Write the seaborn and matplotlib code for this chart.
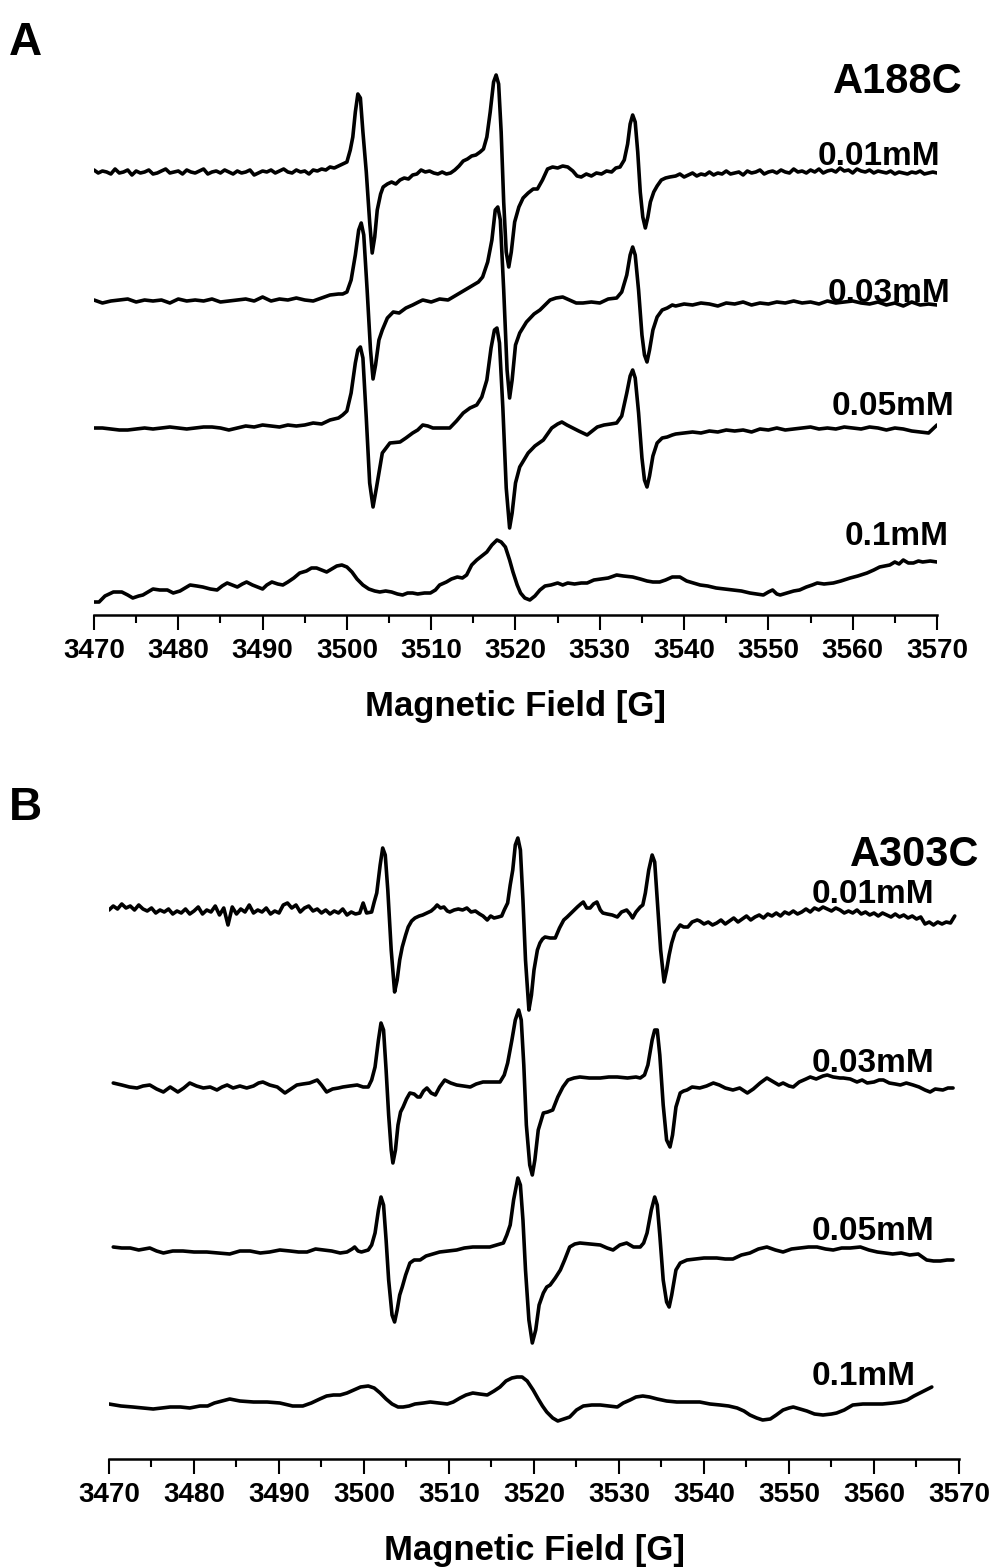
import numpy as np
import pandas as pd
import matplotlib
matplotlib.use("Agg")
import matplotlib.pyplot as plt
import seaborn as sns

# ---------------- data (signal amplitude, arbitrary units) ----------------
concs = ["0.01mM", "0.03mM", "0.05mM", "0.1mM"]
major_ticks = list(range(3470, 3571, 10))

# ---- Panel A : A188C ----
a01_noise_left = [2, -1, 1, 0, -2, 3, -1, 0, 2, -3, 1, -1, 0, 2, -2, -1, 1, 3, -1, 0, 1, -2, 2, 0, -1, 1, 3, -2, 0, 1,
                  -1, 2, 0, -2, 1, -1, 0, 2, -3, -1, 1, 0, 2, -1, 1, 3, 0, -1, 2, 0, 1, -2, 2, 1, 3, 2, 5, 4, 6, 8]
a01_feat = [(3500.0, 10), (3500.4, 22), (3500.7, 35), (3501.0, 60), (3501.3, 78), (3501.6, 74), (3501.9, 40),
            (3502.3, 0), (3502.7, -50), (3503.0, -81), (3503.3, -65), (3503.6, -38), (3504.0, -22), (3504.3, -15),
            (3504.8, -12), (3505.3, -10), (3505.8, -12), (3506.3, -8), (3506.8, -6), (3507.3, -7), (3507.8, -3),
            (3508.3, -2), (3508.8, 2), (3509.3, 0), (3509.8, 1), (3510.3, -1), (3510.8, -2), (3511.3, 0),
            (3511.8, -2), (3512.3, -1), (3512.8, 2), (3513.3, 6), (3513.8, 11), (3514.3, 13), (3514.8, 16),
            (3515.3, 17), (3515.8, 20), (3516.2, 23), (3516.6, 35), (3517.0, 60), (3517.4, 90), (3517.7, 97),
            (3518.0, 88), (3518.3, 40), (3518.6, -30), (3518.9, -80), (3519.2, -95), (3519.5, -80), (3519.9, -50),
            (3520.4, -35), (3520.9, -26), (3521.5, -21), (3522.1, -17), (3522.6, -17), (3523.2, -8), (3523.8, 3),
            (3524.4, 5), (3525.0, 4), (3525.6, 6), (3526.2, 5), (3526.8, 1), (3527.3, -4), (3527.8, -5),
            (3528.4, -2), (3529.0, -4), (3529.6, -1), (3530.2, -2), (3530.8, 1), (3531.4, 0), (3531.9, 4),
            (3532.4, 5), (3532.9, 12), (3533.3, 28), (3533.6, 48), (3533.9, 57), (3534.2, 50), (3534.5, 20),
            (3534.8, -20), (3535.1, -45), (3535.4, -56), (3535.7, -45), (3536.0, -30), (3536.4, -20),
            (3536.8, -14), (3537.3, -8), (3537.8, -6), (3538.3, -5)]
a01_noise_right = [-4, -2, -5, -3, -1, -4, -2, -3, 0, -3, -1, -2, 1, -2, -1, 0, -3, 1, -1, 0, 2, -2, 0, 1, -1, 2, 0, -1, 3, 0,
                   1, -1, 2, 0, 3, -1, 1, 2, 0, 4, 1, 2, -1, 3, 1, 0, 2, -1, 1, 0, -1, 1, -2, 0, -1, -2, 0, -1, 1, -2,
                   -1, 0, -1]

a03_left = [0, -3, -1, 0, 1, -2, 0, -1, 0, -3, 1, -1, 0, -1, 1, -2, -1, 0, 1, -1, 3, -1, 1, 0, 2, 0, -1, 2, 5, 6]
a03_feat = [(3499.5, 6), (3500.0, 8), (3500.5, 20), (3501.0, 45), (3501.4, 70), (3501.7, 77), (3502.0, 65),
            (3502.4, 10), (3502.8, -50), (3503.1, -79), (3503.4, -65), (3503.8, -40), (3504.2, -30), (3504.8, -18),
            (3505.5, -12), (3506.2, -13), (3507.0, -8), (3507.8, -5), (3508.5, -2), (3509.0, 0), (3510.0, -2),
            (3511.0, 1), (3512.0, 0), (3512.6, 3), (3513.4, 7), (3514.2, 11), (3515.0, 15), (3515.6, 18),
            (3516.1, 23), (3516.7, 38), (3517.2, 60), (3517.6, 90), (3517.9, 93), (3518.2, 80), (3518.6, 10),
            (3519.0, -70), (3519.3, -98), (3519.6, -80), (3520.0, -45), (3520.5, -33), (3521.3, -22),
            (3522.2, -14), (3522.9, -10), (3523.5, -5), (3524.1, 0), (3524.8, 2), (3525.6, 3), (3526.4, 0),
            (3527.2, -3), (3528.0, -3), (3529.0, -2), (3530.0, -3), (3531.0, 1), (3532.0, 2), (3532.6, 8),
            (3533.2, 25), (3533.6, 45), (3533.9, 53), (3534.2, 45), (3534.6, 10), (3535.0, -35), (3535.3, -55),
            (3535.6, -62), (3535.9, -50), (3536.3, -30), (3536.8, -17), (3537.4, -10), (3538.0, -8), (3538.6, -5)]
a03_right = [-6, -4, -5, -3, -4, -6, -3, -4, -2, -5, -3, -4, -2, -3, -1, -3, -2, -4, -1, -3, -2, -1, -3, -4, -2, -5,
             -3, -6, -2, -5, -4, -5]

a05_left = [0, 0, -1, -2, -2, -1, 0, -1, 0, 1, 0, -1, 0, 1, 1, 0, -2, 0, 2, 1, 3, 2, 1, 3, 2, 3, 5, 4, 8, 10]
a05_feat = [(3499.5, 13), (3500.0, 17), (3500.5, 35), (3501.0, 65), (3501.3, 78), (3501.6, 81), (3501.9, 70),
            (3502.3, 10), (3502.7, -55), (3503.1, -79), (3503.5, -60), (3504.2, -25), (3505.1, -15), (3506.3, -14),
            (3507.0, -10), (3507.8, -5), (3508.4, -2), (3509.0, 3), (3509.6, 2), (3510.2, 0), (3511.2, 0),
            (3512.2, 0), (3513.0, 7), (3513.8, 15), (3514.6, 20), (3515.4, 23), (3516.0, 31), (3516.6, 48),
            (3517.1, 80), (3517.5, 98), (3517.8, 100), (3518.1, 85), (3518.5, 20), (3518.9, -60), (3519.3, -100),
            (3519.6, -85), (3520.0, -55), (3520.5, -39), (3521.5, -25), (3522.3, -18), (3523.3, -12), (3524.3, 0),
            (3525.0, 4), (3525.5, 6), (3526.1, 3), (3526.8, 0), (3527.5, -3), (3528.5, -7), (3529.1, -3),
            (3529.7, 1), (3530.5, 3), (3531.3, 4), (3532.0, 5), (3532.6, 12), (3533.2, 35), (3533.6, 52),
            (3533.9, 58), (3534.2, 50), (3534.6, 15), (3535.0, -30), (3535.3, -52), (3535.6, -59), (3535.9, -48),
            (3536.3, -28), (3536.8, -15), (3537.4, -10), (3538.0, -9), (3538.6, -7)]
a05_right = [-6, -5, -4, -5, -3, -4, -2, -3, -2, -4, -1, -2, 0, -2, -1, 0, 1, -1, 0, -1, 1, 0, -1, 1, 0, -2, 0, -1,
             -3, -4, -5, 3]

a10_feat = [(3470.0, -12), (3470.6, -12), (3471.3, -6), (3472.3, -2), (3473.3, -2), (3474.0, -5), (3474.6, -8),
            (3475.3, -6), (3475.8, -5), (3476.4, -2), (3477.0, 1), (3477.8, 0), (3478.7, 0), (3479.4, -3),
            (3480.2, -1), (3481.4, 5), (3482.2, 4), (3482.9, 3), (3483.8, 1), (3484.6, 0), (3485.2, 4), (3485.8, 7),
            (3486.4, 5), (3487.0, 3), (3487.6, 6), (3488.1, 8), (3488.8, 5), (3489.4, 3), (3490.0, 1), (3490.5, 5),
            (3491.1, 8), (3491.8, 6), (3492.4, 5), (3493.0, 8), (3493.7, 12), (3494.4, 17), (3495.2, 19),
            (3495.8, 22), (3496.4, 22), (3497.0, 20), (3497.6, 18), (3498.2, 21), (3498.8, 24), (3499.4, 25),
            (3500.0, 23), (3500.6, 18), (3501.2, 11), (3501.9, 5), (3502.6, 1), (3503.3, -1), (3503.9, -2),
            (3504.6, -1), (3505.3, -2), (3506.0, -4), (3506.6, -5), (3507.2, -3), (3507.8, -3), (3508.4, -4),
            (3509.2, -3), (3509.9, -3), (3510.5, 0), (3511.0, 5), (3511.8, 8), (3512.4, 11), (3513.1, 13),
            (3513.7, 12), (3514.2, 15), (3514.8, 25), (3515.4, 30), (3516.0, 34), (3516.6, 38), (3517.2, 45),
            (3517.8, 50), (3518.3, 48), (3518.8, 43), (3519.3, 30), (3519.7, 18), (3520.2, 5), (3520.6, -3),
            (3521.1, -8), (3521.7, -10), (3522.3, -6), (3522.9, 0), (3523.5, 4), (3524.2, 5), (3525.0, 7),
            (3525.6, 5), (3526.2, 7), (3527.0, 6), (3527.8, 7), (3528.5, 7), (3529.3, 10), (3530.2, 11),
            (3531.0, 12), (3532.0, 15), (3532.8, 14), (3533.9, 13), (3534.8, 11), (3535.6, 9), (3536.3, 8),
            (3537.1, 8), (3537.8, 10), (3538.6, 13), (3539.5, 13), (3540.3, 9), (3541.1, 7), (3541.9, 5),
            (3542.8, 4), (3543.8, 2), (3544.8, 1), (3545.8, 0), (3546.8, -1), (3547.8, -3), (3548.6, -4),
            (3549.4, -5), (3550.0, -2), (3550.5, 0), (3551.0, -4), (3551.4, -5), (3552.2, -3), (3553.0, -1),
            (3553.7, 0), (3554.5, 3), (3555.2, 5), (3555.8, 7), (3556.6, 6), (3557.7, 7), (3558.6, 9),
            (3559.7, 12), (3560.6, 14), (3561.7, 17), (3562.5, 20), (3563.2, 23), (3564.4, 25), (3565.0, 28),
            (3565.5, 26), (3566.0, 30), (3566.6, 27), (3567.2, 27), (3567.8, 29), (3568.3, 28), (3569.2, 29),
            (3570.0, 28)]

# ---- Panel B : A303C ----
b01_noise_left = [0, 4, 1, 6, 2, 4, 0, 5, 1, -1, 2, -3, 0, -2, 1, -4, -1, -3, 1, -4, -1, 3, -4, 0, -2, 4, -5, 2,
                  -15, 3, -4, 1, -2, 5, -3, 0, -2, 2, -4, -1, -3, 5, 7, 2, 5, -2, 2, 4, -1, 1, -3, 0, -4, -1, -3, 1,
                  -5, -2, -4, -3]
b01_feat = [(3499.9, 7), (3500.3, -3), (3500.9, -2), (3501.2, 8), (3501.5, 17), (3501.9, 45), (3502.2, 62),
            (3502.5, 55), (3502.8, 20), (3503.2, -40), (3503.6, -82), (3503.9, -70), (3504.2, -50), (3504.5, -37),
            (3504.9, -25), (3505.2, -17), (3505.6, -11), (3506.0, -8), (3506.5, -6), (3506.9, -5), (3507.4, -3),
            (3507.9, -1), (3508.3, 2), (3508.6, 5), (3509.0, 2), (3509.4, 3), (3509.8, -1), (3510.1, -2),
            (3510.6, 0), (3511.1, 1), (3511.6, 0), (3512.1, 2), (3512.6, -2), (3513.1, -1), (3513.6, -4),
            (3514.0, -6), (3514.5, -10), (3514.9, -6), (3515.3, -8), (3515.8, -7), (3516.2, -6), (3516.5, 0),
            (3516.9, 7), (3517.2, 25), (3517.5, 40), (3517.8, 65), (3518.1, 72), (3518.4, 60), (3518.7, 10),
            (3519.0, -50), (3519.4, -100), (3519.7, -85), (3520.0, -60), (3520.4, -40), (3520.7, -33),
            (3521.0, -29), (3521.3, -27), (3521.9, -28), (3522.5, -28), (3523.0, -18), (3523.5, -10),
            (3523.9, -7), (3524.5, -2), (3525.1, 3), (3525.5, 6), (3525.8, 8), (3526.2, 2), (3526.6, 2),
            (3527.0, 6), (3527.4, 8), (3527.8, 0), (3528.1, -3), (3528.6, -4), (3529.2, -5), (3529.8, -7),
            (3530.3, -2), (3530.9, 0), (3531.3, -4), (3531.6, -8), (3532.0, -2), (3532.5, 3), (3532.8, 5),
            (3533.1, 17), (3533.5, 40), (3533.9, 55), (3534.2, 48), (3534.5, 10), (3534.9, -40), (3535.3, -72),
            (3535.6, -60), (3535.9, -45), (3536.2, -33), (3536.6, -22), (3537.2, -15), (3537.6, -17),
            (3538.1, -17), (3538.6, -12), (3539.2, -10)]
b01_noise_right = [-11, -14, -12, -15, -13, -10, -14, -11, -8, -12, -9, -6, -10, -7, -5, -8, -4, -6, -3, -6, -2, -4,
                   -1, -4, -2, 1, -2, 2, 0, 3, 1, -1, 2, 0, -3, -1, -3, 0, -4, -2, -5, -3, -6, -3, -5, -7, -4, -7,
                   -5, -8, -6, -9, -7, -14, -12, -15, -12, -14, -12, -13, -6]

b03_feat = [(3470.5, 2), (3471.5, 0), (3472.4, -2), (3473.3, -3), (3474.0, -1), (3474.8, 0), (3475.6, -4),
            (3476.4, -7), (3477.2, -2), (3478.1, -7), (3478.8, -3), (3479.5, 2), (3480.3, -1), (3481.1, -3),
            (3481.9, -2), (3482.7, -5), (3483.3, -2), (3483.9, 0), (3484.6, -3), (3485.4, -1), (3486.2, -3),
            (3487.0, -1), (3487.6, 2), (3488.1, 3), (3488.9, 0), (3489.8, -2), (3490.7, -8), (3491.4, -4),
            (3492.1, 0), (3492.8, 1), (3493.6, 2), (3494.5, 5), (3495.0, 0), (3495.6, -7), (3496.3, -4),
            (3497.0, -3), (3497.5, -2), (3498.3, -1), (3499.2, 0), (3499.9, -2), (3500.5, -2), (3500.9, 5),
            (3501.3, 18), (3501.7, 45), (3502.0, 62), (3502.3, 55), (3502.6, 15), (3502.9, -30), (3503.2, -65),
            (3503.4, -78), (3503.7, -65), (3504.0, -40), (3504.3, -27), (3504.6, -22), (3505.0, -14),
            (3505.4, -8), (3505.9, -9), (3506.3, -12), (3506.6, -12), (3507.0, -6), (3507.4, -3), (3507.9, -8),
            (3508.4, -10), (3508.9, -2), (3509.5, 5), (3510.2, 2), (3510.9, 0), (3511.7, -1), (3512.5, -2),
            (3513.2, 1), (3514.0, 3), (3515.0, 3), (3516.0, 3), (3516.5, 10), (3516.9, 22), (3517.4, 45),
            (3517.8, 65), (3518.2, 75), (3518.5, 65), (3518.8, 20), (3519.1, -40), (3519.5, -80), (3519.8, -90),
            (3520.1, -75), (3520.5, -45), (3521.1, -28), (3521.6, -27), (3522.2, -25), (3522.8, -12),
            (3523.4, -2), (3524.0, 5), (3524.7, 7), (3525.4, 8), (3526.5, 7), (3527.8, 7), (3528.8, 8),
            (3529.8, 8), (3531.0, 7), (3532.0, 8), (3532.5, 7), (3533.0, 10), (3533.4, 20), (3533.9, 45),
            (3534.2, 55), (3534.5, 55), (3534.8, 30), (3535.2, -20), (3535.6, -55), (3536.0, -62), (3536.3, -50),
            (3536.7, -22), (3537.2, -8), (3537.6, -6), (3538.0, -5), (3538.6, -2), (3539.5, -3), (3540.3, -1),
            (3541.1, 2), (3541.8, 0), (3542.5, -3), (3543.4, -5), (3544.2, -3), (3545.1, -8), (3545.8, -4),
            (3546.6, 2), (3547.4, 7), (3548.2, 3), (3548.8, 0), (3549.3, 2), (3550.0, -1), (3550.5, -2),
            (3551.2, 3), (3552.0, 6), (3552.5, 8), (3553.2, 6), (3554.0, 9), (3554.5, 10), (3555.2, 8),
            (3556.0, 7), (3556.4, 7), (3557.2, 6), (3558.0, 3), (3558.6, 5), (3559.2, 2), (3560.0, 3),
            (3560.6, 5), (3561.1, 5), (3561.8, 2), (3562.5, 1), (3563.1, 0), (3563.8, 2), (3564.6, 0),
            (3565.3, -2), (3566.0, -5), (3566.6, -7), (3567.2, -4), (3568.1, -5), (3568.7, -3), (3569.3, -3)]

b05_feat = [(3470.5, 3), (3471.5, 2), (3472.5, 2), (3473.5, 0), (3474.8, 2), (3475.6, -1), (3476.4, -3),
            (3477.5, -1), (3478.7, -1), (3480.0, -2), (3481.5, -2), (3482.8, -3), (3484.2, -4), (3485.4, -1),
            (3486.6, -1), (3487.8, -3), (3488.9, -2), (3490.1, 0), (3491.3, -1), (3492.3, -2), (3493.3, -2),
            (3494.3, 1), (3495.2, 0), (3496.2, -1), (3497.2, -3), (3498.0, -2), (3498.6, 1), (3498.9, 3),
            (3499.3, -1), (3499.7, -2), (3500.5, 0), (3500.9, 5), (3501.3, 17), (3501.7, 40), (3502.0, 53),
            (3502.3, 45), (3502.6, 10), (3502.9, -30), (3503.3, -65), (3503.6, -72), (3503.9, -60), (3504.2, -45),
            (3504.5, -37), (3504.9, -25), (3505.4, -13), (3505.9, -10), (3506.6, -10), (3507.3, -6), (3508.1, -4),
            (3508.9, -2), (3509.9, -1), (3510.9, 0), (3511.8, 2), (3512.8, 3), (3513.8, 3), (3514.8, 3),
            (3515.6, 5), (3516.4, 7), (3516.8, 15), (3517.2, 25), (3517.6, 50), (3518.1, 72), (3518.4, 65),
            (3518.7, 30), (3519.0, -20), (3519.4, -70), (3519.8, -93), (3520.2, -80), (3520.6, -55),
            (3521.1, -43), (3521.5, -37), (3521.9, -35), (3522.5, -28), (3523.1, -20), (3523.6, -10),
            (3524.2, 3), (3524.8, 6), (3525.4, 7), (3526.6, 6), (3527.8, 5), (3528.6, 2), (3529.3, 0),
            (3530.1, 5), (3530.9, 7), (3531.7, 3), (3532.5, 3), (3532.9, 7), (3533.3, 17), (3533.8, 40),
            (3534.2, 53), (3534.5, 45), (3534.8, 15), (3535.2, -30), (3535.6, -52), (3535.9, -57), (3536.2, -45),
            (3536.7, -20), (3537.2, -13), (3538.0, -10), (3539.0, -9), (3540.0, -8), (3541.5, -8), (3542.5, -9),
            (3543.4, -9), (3544.4, -5), (3545.4, -3), (3546.4, 1), (3547.4, 3), (3548.4, 0), (3549.3, -2),
            (3550.3, 1), (3551.3, 2), (3552.3, 3), (3553.3, 3), (3554.3, 1), (3555.2, 0), (3556.2, 2),
            (3557.2, 2), (3558.4, 3), (3559.4, 0), (3560.4, -2), (3561.3, -3), (3562.2, -4), (3563.2, -3),
            (3564.2, -5), (3565.2, -4), (3566.2, -10), (3567.0, -11), (3567.8, -11), (3568.6, -10), (3569.3, -10)]

b10_feat = [(3470.0, 1), (3471.4, -1), (3472.8, -2), (3474.0, -3), (3475.2, -4), (3476.2, -3), (3477.2, -2),
            (3478.4, -2), (3479.5, -3), (3480.7, -1), (3481.6, -1), (3482.4, 2), (3483.3, 4), (3484.2, 6),
            (3485.4, 4), (3487.0, 3), (3488.6, 3), (3490.1, 2), (3491.6, -1), (3492.8, -1), (3493.8, 2),
            (3494.8, 6), (3495.6, 9), (3496.4, 10), (3497.2, 10), (3498.0, 12), (3498.8, 15), (3499.6, 18),
            (3500.5, 19), (3501.2, 17), (3501.9, 12), (3502.6, 6), (3503.3, 1), (3504.0, -2), (3504.6, -2),
            (3505.3, -1), (3506.0, 1), (3507.0, 2), (3507.8, 3), (3508.8, 2), (3509.8, 1), (3510.5, 3),
            (3511.3, 7), (3512.0, 10), (3512.8, 12), (3513.6, 11), (3514.5, 10), (3515.3, 14), (3516.0, 18),
            (3516.7, 24), (3517.4, 27), (3518.0, 28), (3518.6, 28), (3519.2, 24), (3519.9, 15), (3520.5, 6),
            (3521.0, -1), (3521.5, -7), (3522.2, -13), (3522.8, -16), (3523.5, -14), (3524.2, -12), (3525.0, -5),
            (3525.8, -1), (3526.8, 0), (3527.8, 0), (3528.8, -1), (3529.8, -2), (3530.5, 2), (3531.3, 5),
            (3532.0, 8), (3532.8, 9), (3533.6, 8), (3534.5, 6), (3535.6, 4), (3536.8, 3), (3538.1, 3),
            (3539.5, 3), (3540.7, 1), (3541.9, 0), (3542.9, -1), (3543.9, -3), (3544.7, -6), (3545.4, -10),
            (3546.2, -13), (3546.9, -15), (3547.8, -14), (3548.5, -10), (3549.3, -5), (3550.0, -3), (3550.5, -2),
            (3551.3, -4), (3552.1, -6), (3553.0, -9), (3554.0, -10), (3555.0, -9), (3555.6, -8), (3556.5, -5),
            (3557.5, 0), (3558.7, 1), (3559.9, 1), (3561.0, 1), (3562.2, 2), (3563.1, 3), (3563.9, 5),
            (3564.7, 9), (3565.4, 12), (3566.1, 15), (3566.8, 18)]


def assemble(parts):
    xs, ys = [], []
    for px, py in parts:
        xs.extend(list(px))
        ys.extend(list(py))
    return np.array(xs, float), np.array(ys, float)


def unzip(pairs):
    return [p[0] for p in pairs], [p[1] for p in pairs]


traces_A = [
    assemble([(np.arange(3470, 3500, 0.5), a01_noise_left), unzip(a01_feat),
              (np.arange(3539, 3570.5, 0.5), a01_noise_right)]),
    assemble([(np.arange(3470, 3500, 1.0), a03_left), unzip(a03_feat), (np.arange(3539, 3571, 1.0), a03_right)]),
    assemble([(np.arange(3470, 3500, 1.0), a05_left), unzip(a05_feat), (np.arange(3539, 3571, 1.0), a05_right)]),
    assemble([unzip(a10_feat)]),
]
traces_B = [
    assemble([(np.arange(3470, 3500, 0.5), b01_noise_left), unzip(b01_feat),
              (np.arange(3539.5, 3570, 0.5), b01_noise_right)]),
    assemble([unzip(b03_feat)]),
    assemble([unzip(b05_feat)]),
    assemble([unzip(b10_feat)]),
]

# stacking offsets (vertical position of each trace)
offsets_A = [443, 315, 187, 25]
offsets_B = [549, 374, 209, 54]

# ---------------- figure ----------------
sns.set_theme(style="white")
plt.rcParams["font.family"] = ["Liberation Sans", "DejaVu Sans"]
plt.rcParams["font.weight"] = "bold"

W, H = 1000, 1568
fig = plt.figure(figsize=(W / 100, H / 100), dpi=100)
fig.patch.set_facecolor("white")

axA = fig.add_axes([94 / W, 1 - 615 / H, 843 / W, 555 / H])
axB = fig.add_axes([109 / W, 1 - 1459 / H, 850 / W, 639 / H])


def draw_panel(ax, traces, offsets, ymax):
    frames = []
    for name, (x, y), off in zip(concs, traces, offsets):
        frames.append(pd.DataFrame({"field": x, "y": y + off, "conc": name}))
    df = pd.concat(frames, ignore_index=True)
    sns.lineplot(data=df, x="field", y="y", units="conc", estimator=None, sort=False,
                 color="black", linewidth=2.6, ax=ax, legend=False)
    for ln in ax.lines:
        ln.set_solid_joinstyle("round")
        ln.set_solid_capstyle("round")
    ax.set_xlim(3470, 3570)
    ax.set_ylim(0, ymax)
    ax.patch.set_alpha(0)
    ax.grid(False)
    for s in ["left", "right", "top"]:
        ax.spines[s].set_visible(False)
    ax.spines["bottom"].set_color("black")
    ax.spines["bottom"].set_linewidth(1.8)
    ax.set_yticks([])
    ax.set_ylabel("")
    ax.set_xticks(major_ticks)
    ax.set_xticks([t + 5 for t in major_ticks[:-1]], minor=True)
    ax.set_xticklabels([str(t) for t in major_ticks], fontsize=20, fontweight="bold")
    ax.tick_params(axis="x", which="major", bottom=True, length=10.5, width=1.5, color="black",
                   direction="out", pad=6, labelcolor="black")
    ax.tick_params(axis="x", which="minor", bottom=True, length=5.5, width=1.5, color="black",
                   direction="out")
    ax.set_xlabel("Magnetic Field [G]", fontsize=25, fontweight="bold", color="black", labelpad=19)


draw_panel(axA, traces_A, offsets_A, 555)
draw_panel(axB, traces_B, offsets_B, 639)


def ftext(px, py, s, size, **kw):
    fig.text(px / W, 1 - py / H, s, fontsize=size, fontweight="bold", color="black",
             ha="left", va="baseline", **kw)


ftext(9, 55, "A", 33)
ftext(9, 820, "B", 33)
ftext(833, 93, "A188C", 30)
ftext(850, 866, "A303C", 30)

label_pos_A = [(818, 165), (828, 302), (832, 415), (845, 545)]
label_pos_B = [(812, 903), (812, 1072), (812, 1240), (812, 1385)]
for name, (px, py) in zip(concs, label_pos_A):
    ftext(px, py, name, 24)
for name, (px, py) in zip(concs, label_pos_B):
    ftext(px, py, name, 24)

fig.savefig("out.png", dpi=100, facecolor="white")
